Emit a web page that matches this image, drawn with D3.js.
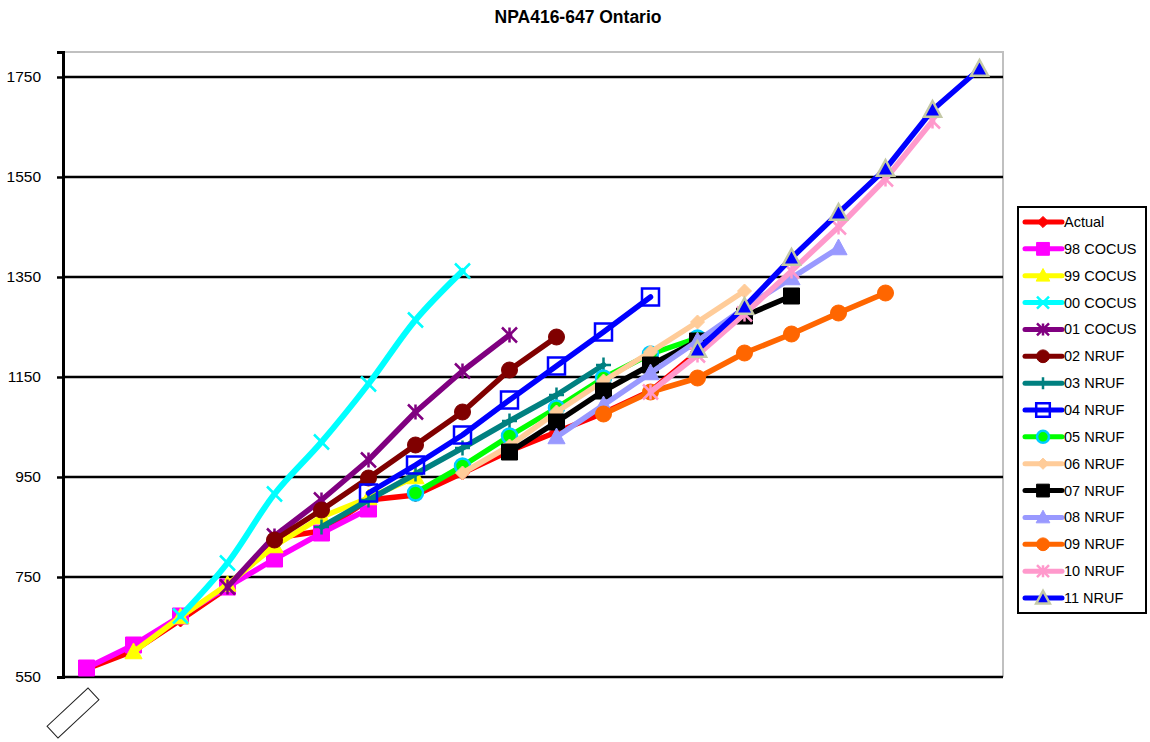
<!DOCTYPE html>
<html>
<head>
<meta charset="utf-8">
<script src="https://cdn.jsdelivr.net/npm/d3@7"></script>
<style>
  body { margin: 0; background: #fff; }
  text { font-family: "Liberation Sans", Arial, sans-serif; }
</style>
</head>
<body>
<script>
// categories (no labels shown on the x axis)
var years = ['1997','1998','1999','2000','2001','2002','2003','2004','2005','2006',
             '2007','2008','2009','2010','2011','2012','2013','2014','2015','2016']
var yTicks = [550, 750, 950, 1150, 1350, 1550, 1750]

var names = ['Actual','98 COCUS','99 COCUS','00 COCUS','01 COCUS','02 NRUF','03 NRUF',
             '04 NRUF','05 NRUF','06 NRUF','07 NRUF','08 NRUF','09 NRUF','10 NRUF','11 NRUF']
var startYears = ['1997','1997','1998','1999','2000','2001','2002',
                  '2003','2004','2005','2006','2007','2008','2009','2010']

var actual  = [566, 602, 664, 728, 828, 842, 904, 914, 958, 1002, 1040, 1078, 1122, 1200]
var cocus98 = [568, 614, 672, 730, 786, 838, 886]
var cocus99 = [600, 670, 735, 812, 870, 908, 950]
var cocus00 = [672, 778, 916, 1020, 1136, 1264, 1362]
var cocus01 = [730, 832, 904, 984, 1080, 1162, 1234]
var nruf02  = [824, 884, 948, 1014, 1080, 1164, 1230]
var nruf03  = [850, 904, 956, 1008, 1062, 1114, 1174]
var nruf04  = [918, 974, 1034, 1104, 1172, 1240, 1310]
var nruf05  = [918, 972, 1032, 1088, 1148, 1196, 1228]
var nruf06  = [958, 1012, 1080, 1142, 1200, 1260, 1322]
var nruf07  = [1000, 1060, 1122, 1174, 1222, 1272, 1312]
var nruf08  = [1030, 1094, 1158, 1222, 1288, 1348, 1408]
var nruf09  = [1076, 1120, 1148, 1198, 1236, 1278, 1318]
var nruf10  = [1120, 1194, 1276, 1362, 1450, 1546, 1662]
var nruf11  = [1204, 1290, 1388, 1478, 1566, 1684, 1766]

var values = [actual, cocus98, cocus99, cocus00, cocus01, nruf02, nruf03,
              nruf04, nruf05, nruf06, nruf07, nruf08, nruf09, nruf10, nruf11]

var colors  = ['#ff0000','#ff00ff','#ffff00','#00ffff','#800080','#800000','#008080',
               '#0000ff','#00ff00','#ffcc99','#000000','#9999ff','#ff6600','#ff99cc','#0000ff']
var markers = ['diamond','square','triangle','x','star','circle','plus',
               'opensquare','ringcircle','diamond','square','triangle','circle','star','ringtriangle']

var W = 1150, H = 742
var svg = d3.select('body').append('svg').attr('width', W).attr('height', H)

var x = d3.scaleBand().domain(years).range([63, 1003]).padding(0)
var y = d3.scaleLinear().domain([550, 1800]).range([677, 52])
var cx = function(yr){ return x(yr) + x.bandwidth() / 2 }

// title
svg.append('text').attr('x', 578).attr('y', 23).attr('text-anchor', 'middle')
  .style('font-size', '17.5px').style('font-weight', 'bold').text('NPA416-647 Ontario')

// plot frame
svg.append('path').attr('d', 'M63,52H1003V677').attr('fill', 'none')
  .attr('stroke', '#c0c0c0').attr('stroke-width', 2)

// gridlines + y axis
svg.append('g').selectAll('line').data(yTicks).enter().append('line')
  .attr('x1', 63).attr('x2', 1003)
  .attr('y1', function(d){ return y(d) }).attr('y2', function(d){ return y(d) })
  .attr('stroke', '#000').attr('stroke-width', 2.5)

var yAxis = svg.append('g').attr('transform', 'translate(63,0)')
  .call(d3.axisLeft(y).tickValues(yTicks).tickSize(6).tickPadding(16).tickFormat(d3.format('d')))
yAxis.select('.domain').attr('stroke', '#000').attr('stroke-width', 3)
yAxis.selectAll('.tick line').attr('stroke', '#000').attr('stroke-width', 2.5)
yAxis.selectAll('.tick text').style('font-size', '15.5px').attr('fill', '#000')
  .style('font-family', '"Liberation Sans", Arial, sans-serif')

// empty rotated label box under the first category
svg.append('rect').attr('x', -28).attr('y', -8).attr('width', 56).attr('height', 16)
  .attr('fill', '#fff').attr('stroke', '#222').attr('stroke-width', 1)
  .attr('transform', 'translate(73,713) rotate(-43)')

function markerPath(type, r){
  switch(type){
    case 'diamond': return 'M0,' + (-r) + 'L' + r + ',0L0,' + r + 'L' + (-r) + ',0Z'
    case 'square': case 'opensquare': return 'M' + (-r) + ',' + (-r) + 'H' + r + 'V' + r + 'H' + (-r) + 'Z'
    case 'triangle': case 'ringtriangle':
      return 'M0,' + (-r) + 'L' + (r * 0.95) + ',' + (r * 0.75) + 'L' + (-r * 0.95) + ',' + (r * 0.75) + 'Z'
    case 'x': return 'M' + (-r) + ',' + (-r) + 'L' + r + ',' + r + 'M' + r + ',' + (-r) + 'L' + (-r) + ',' + r
    case 'star': return 'M' + (-r) + ',' + (-r) + 'L' + r + ',' + r + 'M' + r + ',' + (-r) + 'L' + (-r) + ',' + r +
                        'M0,' + (-r) + 'V' + r
    case 'plus': return 'M0,' + (-r) + 'V' + r + 'M' + (-r) + ',0H' + r
    default: return d3.symbol(d3.symbolCircle, Math.PI * r * r)()
  }
}

function styleMarker(sel, type, color, r){
  var filled = ['diamond','square','triangle','circle'].indexOf(type) >= 0
  sel.attr('d', markerPath(type, r))
  if (filled) sel.attr('fill', color).attr('stroke', color).attr('stroke-width', 1)
  else if (type === 'ringcircle') sel.attr('fill', color).attr('stroke', '#00ccff').attr('stroke-width', 2.5)
  else if (type === 'ringtriangle') sel.attr('fill', color).attr('stroke', '#c4c9a6').attr('stroke-width', 2.5)
  else sel.attr('fill', 'none').attr('stroke', color).attr('stroke-width', 2.5)
}

var sizes = { diamond: 7, square: 8, triangle: 9, x: 7.5, star: 7.5, plus: 7.5, circle: 8,
              opensquare: 8.5, ringcircle: 7.5, ringtriangle: 9 }

var series = names.map(function(n, i){
  var s = years.indexOf(startYears[i])
  return { name: n, color: colors[i], marker: markers[i],
           pts: values[i].map(function(v, j){ return { yr: years[s + j], v: v } }) }
})

var lineStraight = d3.line().x(function(d){ return cx(d.yr) }).y(function(d){ return y(d.v) })
var lineSmooth = d3.line().curve(d3.curveCatmullRom.alpha(0.5))
  .x(function(d){ return cx(d.yr) }).y(function(d){ return y(d.v) })

var plot = svg.append('g')
series.forEach(function(s){
  var g = plot.append('g')
  g.append('path').datum(s.pts)
    .attr('d', s.name === '00 COCUS' ? lineSmooth : lineStraight)
    .attr('fill', 'none').attr('stroke', s.color)
    .attr('stroke-width', s.name === '00 COCUS' ? 6 : 5.5)
    .attr('stroke-linejoin', 'round').attr('stroke-linecap', 'round')
  g.selectAll('path.m').data(s.pts).enter().append('path').attr('class', 'm')
    .attr('transform', function(d){ return 'translate(' + cx(d.yr) + ',' + y(d.v) + ')' })
    .call(styleMarker, s.marker, s.color, sizes[s.marker])
})

// legend
var leg = svg.append('g')
leg.append('rect').attr('x', 1018).attr('y', 207).attr('width', 128).attr('height', 406)
  .attr('fill', '#fff').attr('stroke', '#000').attr('stroke-width', 2)
var rowY = d3.scaleLinear().domain([0, names.length - 1]).range([222, 598])
series.forEach(function(s, i){
  var g = leg.append('g').attr('transform', 'translate(0,' + rowY(i) + ')')
  g.append('line').attr('x1', 1025).attr('x2', 1062).attr('stroke', s.color)
    .attr('stroke-width', 5).attr('stroke-linecap', 'round')
  g.append('path').attr('transform', 'translate(1043,0)')
    .call(styleMarker, s.marker, s.color, sizes[s.marker] * 0.8)
  g.append('text').attr('x', 1064).attr('y', 5).style('font-size', '14.5px').text(s.name)
})
</script>
</body>
</html>
